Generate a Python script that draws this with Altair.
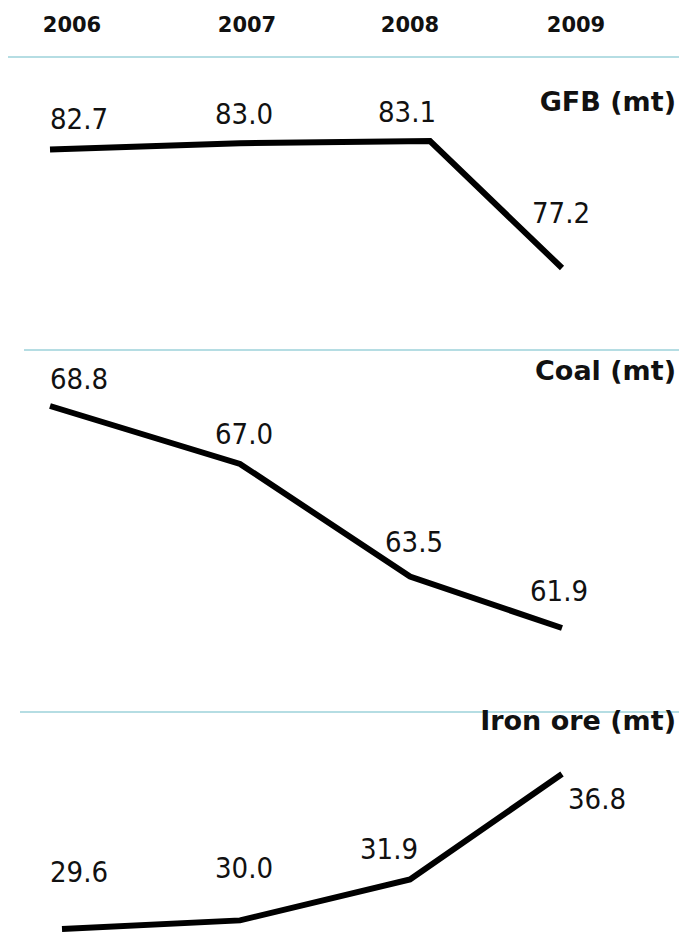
import altair as alt
import pandas as pd

years = [2006, 2007, 2008, 2009]
gfb = [82.7, 83.0, 83.1, 77.2]
coal = [68.8, 67.0, 63.5, 61.9]
iron = [29.6, 30.0, 31.9, 36.8]
titles = ["GFB (mt)", "Coal (mt)", "Iron ore (mt)"]
year_labels = ["2006", "2007", "2008", "2009"]

NUM_FONT = "DejaVu Sans Condensed, Liberation Sans Narrow, Liberation Sans"
BOLD_FONT = "DejaVu Sans, Verdana, sans-serif"
SEP = "#b5dde3"

layers = []

# header years
hdr = pd.DataFrame({"year": years, "label": year_labels})
layers.append(
    alt.Chart(hdr).mark_text(font=BOLD_FONT, fontWeight="bold", fontSize=21,
                             align="center", baseline="middle", color="#111")
    .encode(x=alt.X("year:Q", axis=None,
                    scale=alt.Scale(domain=years, range=[72, 247, 410, 576], zero=False, nice=False)),
            y=alt.value(26), text="label:N")
)

panels = [
    # values, title, sep y, sep x start, title y, line x, line y, label x, label y
    (gfb, titles[0], 57, 8, 103, [50, 240, 430, 562], [268, 141], [50, 215, 378, 532], [214, 113]),
    (coal, titles[1], 350, 24, 372, [50, 240, 410, 562], [628, 406], [50, 215, 385, 530], [592, 380]),
    (iron, titles[2], 712, 20, 722, [62, 240, 410, 562], [929, 774], [50, 215, 360, 568], [873, 800]),
]

for vals, title, sep_y, sep_x, title_y, lx, ly, tx, ty in panels:
    df = pd.DataFrame({"year": years, "value": vals})
    dom = [min(vals), max(vals)]
    layers.append(
        alt.Chart(df).mark_rule(color=SEP, strokeWidth=2)
        .encode(x=alt.value(sep_x), x2=alt.value(679), y=alt.value(sep_y))
    )
    layers.append(
        alt.Chart(df).mark_line(color="black", strokeWidth=6, strokeCap="butt", strokeJoin="miter")
        .encode(x=alt.X("year:Q", axis=None,
                        scale=alt.Scale(domain=years, range=lx, zero=False, nice=False)),
                y=alt.Y("value:Q", axis=None,
                        scale=alt.Scale(domain=dom, range=ly, zero=False, nice=False)))
    )
    layers.append(
        alt.Chart(df).mark_text(font=NUM_FONT, fontSize=29, align="left", baseline="middle", color="#111")
        .encode(x=alt.X("year:Q", axis=None,
                        scale=alt.Scale(domain=years, range=tx, zero=False, nice=False)),
                y=alt.Y("value:Q", axis=None,
                        scale=alt.Scale(domain=dom, range=ty, zero=False, nice=False)),
                text=alt.Text("value:Q", format=".1f"))
    )
    layers.append(
        alt.Chart(pd.DataFrame({"t": [title]})).mark_text(font=BOLD_FONT, fontWeight="bold", fontSize=27,
                                                         align="right", baseline="middle", color="#111")
        .encode(x=alt.value(676), y=alt.value(title_y), text="t:N")
    )

chart = (
    alt.layer(*layers)
    .resolve_scale(x="independent", y="independent")
    .properties(width=679, height=936, padding=0, autosize=alt.AutoSizeParams(type="none"),
                background="white")
    .configure_view(stroke=None)
)

chart.save("out.html", embed_options={"renderer": "svg", "actions": False})
